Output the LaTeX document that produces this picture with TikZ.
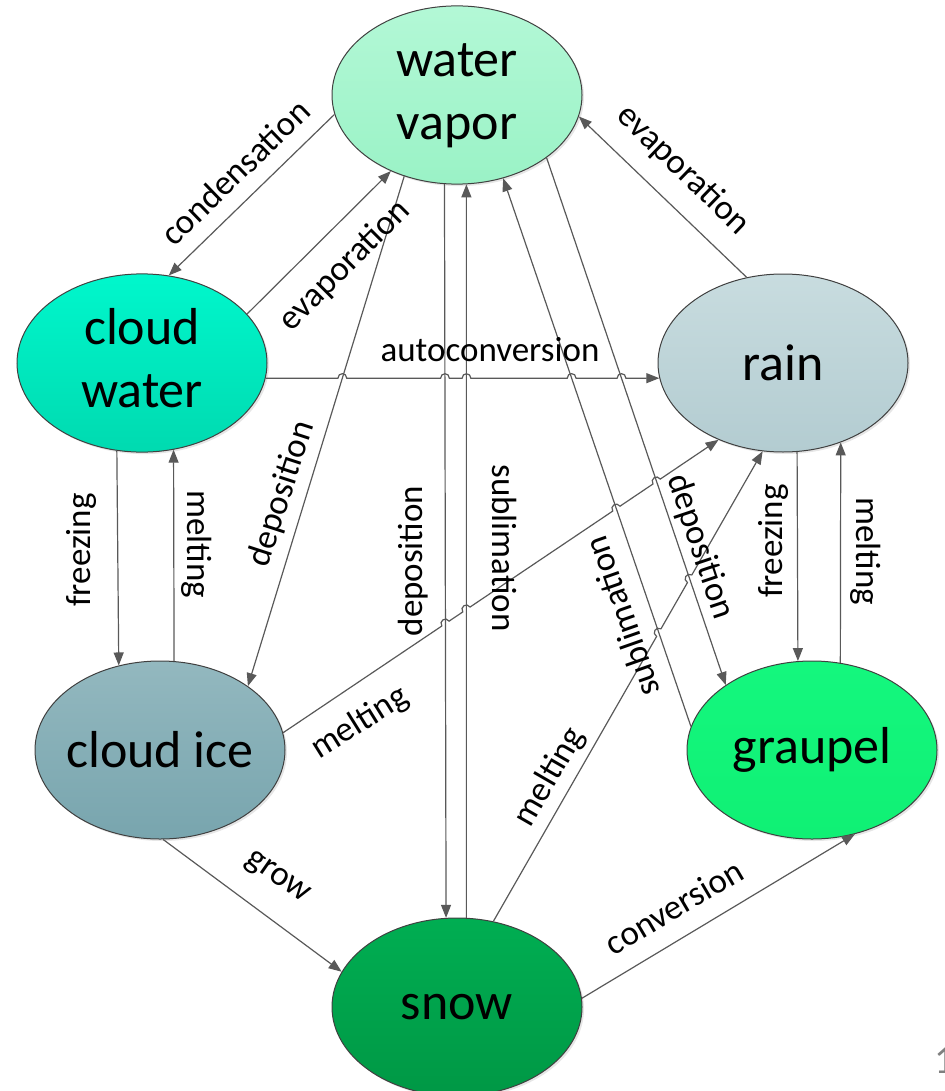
\documentclass[tikz,border=0pt]{standalone}
\usepackage{fontspec}
\setmainfont{Carlito}
\usetikzlibrary{shapes.geometric,arrows.meta,shadows,calc}
\definecolor{vapTop}{HTML}{B3F8D6}
\definecolor{vapBot}{HTML}{9AF2C6}
\definecolor{cwTop}{HTML}{00F7CC}
\definecolor{cwBot}{HTML}{00DAB0}
\definecolor{rainTop}{HTML}{C8DCDF}
\definecolor{rainBot}{HTML}{B3CCD1}
\definecolor{ciTop}{HTML}{93B8BF}
\definecolor{ciBot}{HTML}{78A5AE}
\definecolor{grTop}{HTML}{14F77E}
\definecolor{grBot}{HTML}{10F074}
\definecolor{snTop}{HTML}{00AE52}
\definecolor{snBot}{HTML}{009845}
\definecolor{lineGray}{HTML}{595959}
\definecolor{edgeGray}{HTML}{404040}
% hop (line jump) helpers
\newcommand\hopdef[3]{% #1 crossing, #2 start of hopping line, #3 its end
  \coordinate (#1-a) at ($(#1)!2.2pt!(#2)$);
  \coordinate (#1-b) at ($(#1)!2.2pt!(#3)$);
  \coordinate (#1-ca) at ($(#1-a)!3pt!90:(#1)$);
  \coordinate (#1-cb) at ($(#1-b)!3pt!-90:(#1)$);}
\newcommand\hopit[1]{-- (#1-a) .. controls (#1-ca) and (#1-cb) .. (#1-b)}
\begin{document}
\begin{tikzpicture}[x=0.5pt,y=-0.5pt,
  blob/.style={ellipse, draw=edgeGray, line width=0.5pt, minimum width=125pt,
    minimum height=89pt, inner sep=0pt, font=\fontsize{26}{31.5}\selectfont,
    drop shadow={shadow xshift=1pt, shadow yshift=-1pt, opacity=0.2}},
  conn/.style={draw=lineGray, line width=0.6pt, -{Triangle[length=6.5pt,width=5pt]}},
  lbl/.style={font=\fontsize{17.5}{20}\selectfont, inner sep=0pt, text=black}
]
\useasboundingbox (0,0) rectangle (945,1091);

% states
\node[blob, top color=vapTop, bottom color=vapBot] (v) at (457,95)
  {\makebox[0pt]{\begin{tabular}{@{}c@{}}water\\vapor\end{tabular}}};
\node[blob, top color=cwTop, bottom color=cwBot] (cw) at (142,363)
  {\makebox[0pt]{\begin{tabular}{@{}c@{}}cloud\\water\end{tabular}}};
\node[blob, top color=rainTop, bottom color=rainBot] (r) at (783,363)
  {\makebox[0pt]{rain}};
\node[blob, top color=ciTop, bottom color=ciBot] (ci) at (160,750)
  {\makebox[0pt]{cloud ice}};
\node[blob, top color=grTop, bottom color=grBot] (g) at (812,750)
  {\makebox[0pt]{graupel}};
\node[blob, top color=snTop, bottom color=snBot] (s) at (457,1007)
  {\makebox[0pt]{snow}};

% connector end points on the ellipses
\coordinate (acS) at (cw.-7.89);  \coordinate (acE) at (r.187.89);
\coordinate (d1S) at (v.237.1);   \coordinate (d1E) at (ci.36.8);
\coordinate (d2S) at (v.262.28);  \coordinate (d2E) at (s.97.72);
\coordinate (s2S) at (s.84.21);   \coordinate (s2E) at (v.-84.21);
\coordinate (s3S) at (g.169.1);   \coordinate (s3E) at (v.-61.8);
\coordinate (d3S) at (v.-35.5);   \coordinate (d3E) at (g.143.3);
\coordinate (m1S) at (ci.8.3);    \coordinate (m1E) at (r.230.9);
\coordinate (m2S) at (s.67.5);    \coordinate (m2E) at (r.257.8);

% crossings where lines jump
\coordinate (ax1) at (intersection of acS--acE and d1S--d1E);
\coordinate (ax2) at (intersection of acS--acE and d2S--d2E);
\coordinate (ax3) at (intersection of acS--acE and s2S--s2E);
\coordinate (ax4) at (intersection of acS--acE and s3S--s3E);
\coordinate (ax5) at (intersection of acS--acE and d3S--d3E);
\coordinate (mx1) at (intersection of m1S--m1E and d2S--d2E);
\coordinate (mx2) at (intersection of m1S--m1E and s2S--s2E);
\coordinate (mx3) at (intersection of m1S--m1E and s3S--s3E);
\coordinate (mx4) at (intersection of m1S--m1E and d3S--d3E);
\coordinate (nx1) at (intersection of m2S--m2E and s3S--s3E);
\coordinate (nx2) at (intersection of m2S--m2E and d3S--d3E);
\hopdef{ax1}{acS}{acE}\hopdef{ax2}{acS}{acE}\hopdef{ax3}{acS}{acE}
\hopdef{ax4}{acS}{acE}\hopdef{ax5}{acS}{acE}
\hopdef{mx1}{m1S}{m1E}\hopdef{mx2}{m1S}{m1E}\hopdef{mx3}{m1S}{m1E}
\hopdef{mx4}{m1S}{m1E}
\hopdef{nx1}{m2S}{m2E}\hopdef{nx2}{m2S}{m2E}

% connectors
\draw[conn] (v.189.2) -- (cw.73.8);    % condensation
\draw[conn] (cw.25.3) -- (v.229.3);    % evaporation
\draw[conn] (d1S) -- (d1E);            % deposition
\draw[conn] (acS) \hopit{ax1} \hopit{ax2} \hopit{ax3} \hopit{ax4} \hopit{ax5} -- (acE); % autoconversion
\draw[conn] (cw.254.64) -- (ci.116.61);% freezing
\draw[conn] (ci.81.65) -- (cw.-70.22); % melting
\draw[conn] (d2S) -- (d2E);            % deposition
\draw[conn] (s2S) -- (s2E);            % sublimation
\draw[conn] (s3S) -- (s3E);            % sublimation
\draw[conn] (d3S) -- (d3E);            % deposition
\draw[conn] (r.113.8) -- (v.-10.1);    % evaporation
\draw[conn] (m1S) \hopit{mx1} \hopit{mx2} \hopit{mx3} \hopit{mx4} -- (m1E); % melting
\draw[conn] (m2S) \hopit{nx1} \hopit{nx2} -- (m2E); % melting
\draw[conn] (r.-81.0) -- (g.99.64);    % freezing
\draw[conn] (g.72.11) -- (r.-54.26);   % melting
\draw[conn] (ci.-88) -- (s.163.3);     % grow
\draw[conn] (s.4.5) -- (g.-63.2);      % conversion

% labels
\node[lbl, rotate=44]   (l1)  at (235,172) {condensation};
\node[lbl, rotate=45]   (l2)  at (345,266) {evaporation};
\node[lbl, rotate=72]   (l3)  at (282,494) {deposition};
\node[lbl]              (l4)  at (490,350) {autoconversion};
\node[lbl, rotate=90]   (l5)  at (81,550)  {freezing};
\node[lbl, rotate=-90]  (l6)  at (197,544) {melting};
\node[lbl, rotate=90]   (l7)  at (413,561) {deposition};
\node[lbl, rotate=-90]  (l8)  at (505,548) {sublimation};
\node[lbl, rotate=109.3](l9)  at (622,617) {sublimation};
\node[lbl, rotate=-71.6](l10) at (700,547) {deposition};
\node[lbl, rotate=-44]  (l11) at (683,170) {evaporation};
\node[lbl, rotate=32]   (l12) at (360,723) {melting};
\node[lbl, rotate=60]   (l13) at (550,777) {melting};
\node[lbl, rotate=90]   (l14) at (773,541) {freezing};
\node[lbl, rotate=-90]  (l15) at (866,551) {melting};
\node[lbl, rotate=-35]  (l16) at (277,878) {grow};
\node[lbl, rotate=30.5] (l17) at (674,907) {conversion};

% page number (cut at the edge)
\node[font=\fontsize{20}{24}\selectfont, text=black!50, inner sep=0pt, anchor=base west] (pg) at (934,1073) {1};
\end{tikzpicture}
\end{document}
